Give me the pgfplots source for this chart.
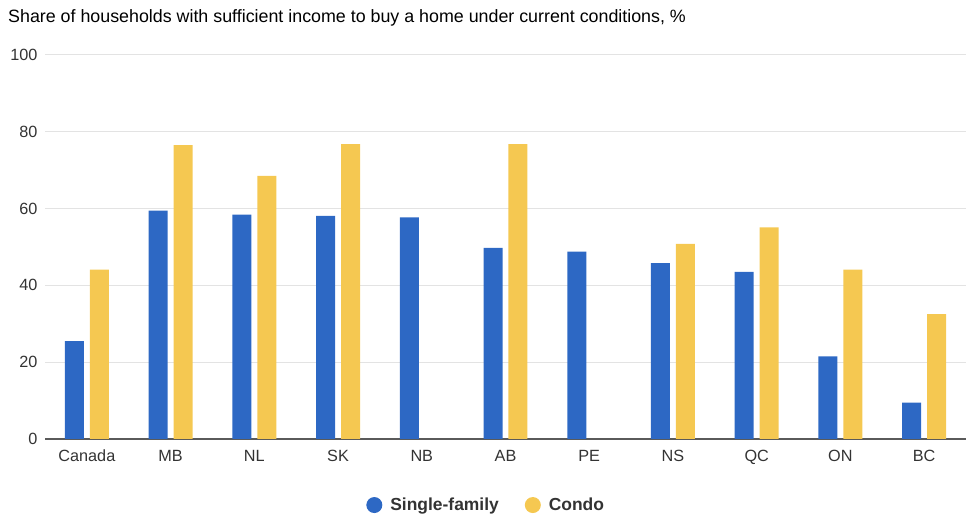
\documentclass[border=0pt]{standalone}
\usepackage{fontspec}
\setmainfont{Liberation Sans}
\usepackage{pgfplots}
\pgfplotsset{compat=1.18}
\definecolor{sfblue}{HTML}{2D68C4}
\definecolor{condoyel}{HTML}{F5C851}
\definecolor{txt}{HTML}{333333}
\definecolor{gridgray}{HTML}{E3E3E3}
\definecolor{basegray}{HTML}{5A5A5A}

% x: 0=Canada 1=MB 2=NL 3=SK 4=NB 5=AB 6=PE 7=NS 8=QC 9=ON 10=BC
\begin{document}
\begin{tikzpicture}[x=1bp,y=1bp]
\path[use as bounding box] (0,0) rectangle (980,523);
\node[anchor=west,font=\fontsize{17.9}{19}\selectfont,text=black,inner sep=0pt] at (8,505)
  {Share of households with sufficient income to buy a home under current conditions, \%};
\begin{axis}[
    at={(45bp,84bp)}, anchor=south west,
    scale only axis,
    width=921bp, height=384bp,
    xmin=-0.5, xmax=10.5,
    ymin=0, ymax=100,
    ytick={0,20,40,60,80,100},
    xtick={0,...,10},
    xticklabels={Canada,MB,NL,SK,NB,AB,PE,NS,QC,ON,BC},
    major tick length=0pt,
    axis y line*=left,
    axis x line*=bottom,
    y axis line style={draw=none},
    x axis line style={draw=basegray,line width=1.5bp,-},
    ymajorgrids=true,
    grid style={draw=gridgray,line width=1bp},
    ticklabel style={font=\fontsize{16.3}{18}\selectfont,text=txt},
    /pgf/number format/assume math mode=true,
    yticklabel style={anchor=east,xshift=-4bp},
    xticklabel style={yshift=-6bp,text height=12.5bp,text depth=0bp},
    ybar, bar width=0.227, bar shift=0pt,
    legend style={at={(0.479,-0.172)},anchor=center,draw=none,fill=none,
        legend columns=2,
        font=\fontsize{17.5}{19}\selectfont\bfseries,text=txt,
        /tikz/every odd column/.style={column sep=6bp},
        /tikz/every even column/.style={column sep=24bp}},
    legend image code/.code={\fill[#1] (4bp,0bp) circle (8bp);},
]
\addplot[fill=sfblue,draw=none] coordinates {
  (-0.149,25.5) (0.851,59.5) (1.851,58.4) (2.851,58.1) (3.851,57.7)
  (4.851,49.8) (5.851,48.8) (6.851,45.8) (7.851,43.5) (8.851,21.5) (9.851,9.5)};
\addlegendentry{Single-family}
\addplot[fill=condoyel,draw=none] coordinates {
  (0.149,44.1) (1.149,76.5) (2.149,68.5) (3.149,76.8)
  (5.149,76.8) (7.149,50.8) (8.149,55.1) (9.149,44.1) (10.149,32.5)};
\addlegendentry{Condo}
\end{axis}
\end{tikzpicture}
\end{document}
